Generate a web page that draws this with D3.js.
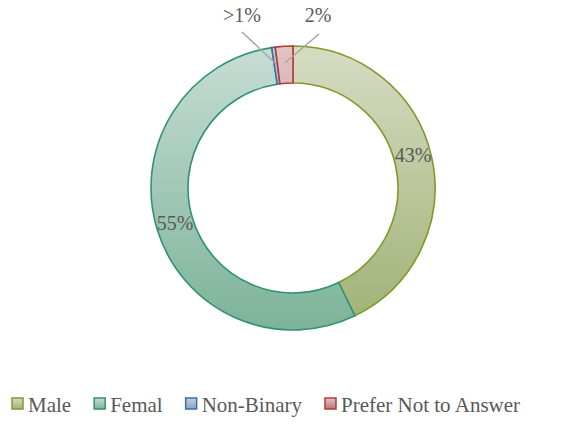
<!DOCTYPE html>
<html>
<head>
<meta charset="utf-8">
<script src="https://cdn.jsdelivr.net/npm/d3@7"></script>
<style>
  body { margin: 0; background: #fff; }
</style>
</head>
<body>
<svg id="chart" width="586" height="424"></svg>
<script>
const categories = ["Male", "Femal", "Non-Binary", "Prefer Not to Answer"];
const values = [43, 55, 0.4, 2];
const labels = ["43%", "55%", ">1%", "2%"];

const strokeColors = ["#7f9a2a", "#2e9470", "#3d6da6", "#b23b3b"];
const lightColors  = ["#d6dcc3", "#c7ddd5", "#c3cfe0", "#e2c3c3"];
const darkColors   = ["#a0b174", "#7db399", "#8aa3c6", "#b9787a"];

const fontFam = "'Liberation Serif', 'Times New Roman', serif";

let svg = d3.select("#chart"),
    cx = 293, cy = 188,
    outerR = 142, innerR = 105;

let defs = svg.append("defs");
categories.forEach((c, i) => {
    let grad = defs.append("linearGradient")
        .attr("id", "grad" + i)
        .attr("gradientUnits", "userSpaceOnUse")
        .attr("x1", 0).attr("y1", -outerR)
        .attr("x2", 0).attr("y2", outerR);
    grad.append("stop").attr("offset", "0%").attr("stop-color", lightColors[i]);
    grad.append("stop").attr("offset", "100%").attr("stop-color", darkColors[i]);

    let lg = defs.append("linearGradient").attr("id", "lgrad" + i)
        .attr("x1", 0).attr("y1", 0).attr("x2", 0).attr("y2", 1);
    lg.append("stop").attr("offset", "0%").attr("stop-color", lightColors[i]);
    lg.append("stop").attr("offset", "100%").attr("stop-color", darkColors[i]);
});

let pie = d3.pie().sort(null).value(d => d)(values);
let arc = d3.arc().innerRadius(innerR).outerRadius(outerR);

let g = svg.append("g").attr("transform", "translate(" + cx + "," + cy + ")");

g.selectAll(".slice")
    .data(pie)
    .enter().append("path")
        .attr("class", "slice")
        .attr("d", arc)
        .attr("fill", (d, i) => "url(#grad" + i + ")")
        .attr("stroke", (d, i) => strokeColors[i])
        .attr("stroke-width", 1.6);

// inside labels for the two big slices
g.selectAll(".inlabel")
    .data(pie.slice(0, 2))
    .enter().append("text")
        .attr("class", "inlabel")
        .attr("x", (d, i) => i == 0 ? 120 : -118)
        .attr("y", (d, i) => i == 0 ? -26 : 42)
        .attr("text-anchor", "middle")
        .attr("font-family", fontFam)
        .attr("font-size", 20)
        .attr("fill", "#595959")
        .text((d, i) => labels[i]);

// outside labels with leader lines for the tiny slices
let outside = [
    {i: 2, tx: -51, ty: -166, lx: -51, ly: -156},
    {i: 3, tx: 25, ty: -166, lx: 26, ly: -154}
];
outside.forEach(o => {
    let mid = (pie[o.i].startAngle + pie[o.i].endAngle) / 2;
    let r = (innerR + outerR) / 2 + 2;
    g.append("line")
        .attr("x1", o.lx).attr("y1", o.ly)
        .attr("x2", Math.sin(mid) * r).attr("y2", -Math.cos(mid) * r)
        .attr("stroke", "#a6a6a6")
        .attr("stroke-width", 1.5);
    g.append("text")
        .attr("x", o.tx).attr("y", o.ty)
        .attr("text-anchor", "middle")
        .attr("font-family", fontFam)
        .attr("font-size", 20)
        .attr("fill", "#595959")
        .text(labels[o.i]);
});

// legend
let legend = svg.append("g").attr("transform", "translate(12,404)");
let xPos = 0;
categories.forEach((c, i) => {
    let item = legend.append("g").attr("transform", "translate(" + xPos + ",0)");
    item.append("rect")
        .attr("x", 0).attr("y", -6)
        .attr("width", 11).attr("height", 11)
        .attr("fill", "url(#lgrad" + i + ")")
        .attr("stroke", strokeColors[i])
        .attr("stroke-width", 1.5);
    let t = item.append("text")
        .attr("x", 16).attr("y", 8)
        .attr("font-family", fontFam)
        .attr("font-size", 21)
        .attr("fill", "#595959")
        .text(c);
    xPos += 16 + t.node().getComputedTextLength() + 23;
});
</script>
</body>
</html>
